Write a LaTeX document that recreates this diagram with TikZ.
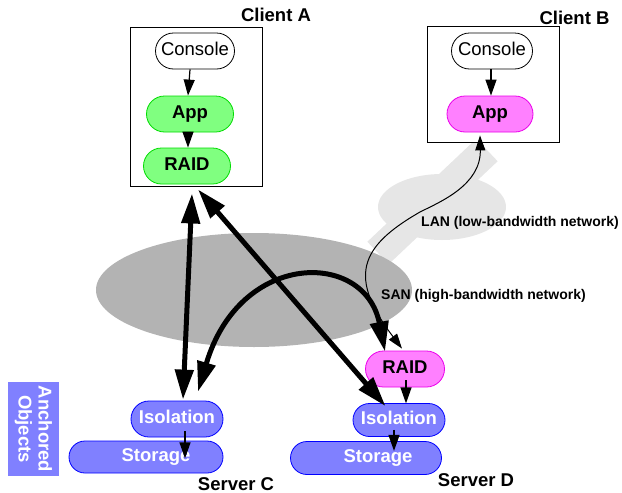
\documentclass[tikz,border=0pt]{standalone}
\usepackage{fontspec}
\setmainfont{Liberation Sans}
\usetikzlibrary{arrows.meta,calc,shapes.misc}
\definecolor{greenfill}{RGB}{128,255,128}
\definecolor{greenline}{RGB}{0,220,0}
\definecolor{magfill}{RGB}{255,128,255}
\definecolor{magline}{RGB}{235,0,235}
\definecolor{bluefill}{RGB}{128,128,255}
\definecolor{blueline}{RGB}{0,0,255}
\definecolor{sangrey}{RGB}{179,179,179}
\definecolor{langrey}{RGB}{230,230,230}
\begin{document}
\begin{tikzpicture}[x=1pt,y=-1pt,
  base/.style={font=\fontsize{18.5}{20}\selectfont, inner sep=0pt, text height=13pt, text depth=5pt},
  pill/.style={base, rounded rectangle, line width=0.8pt, minimum height=36pt},
  console/.style={pill, draw=black, fill=white},
  greenpill/.style={pill, draw=greenline, fill=greenfill, font=\fontsize{18.5}{20}\selectfont\bfseries},
  magpill/.style={pill, draw=magline, fill=magfill, font=\fontsize{18.5}{20}\selectfont\bfseries},
  bluepill/.style={pill, draw=blueline, fill=bluefill, text=white, font=\fontsize{18.5}{20}\selectfont\bfseries},
  wtext/.style={base, text=white, font=\fontsize{18.5}{20}\selectfont\bfseries},
  clientbox/.style={draw=black, fill=white, line width=0.9pt, inner sep=0pt},
  title/.style={inner sep=0pt, font=\fontsize{18.5}{20}\selectfont\bfseries},
  netlabel/.style={inner sep=0pt, anchor=west, font=\fontsize{14}{16}\selectfont\bfseries},
  anchoredbox/.style={fill=bluefill, text=white, inner sep=0pt, rotate=-90, align=center,
    minimum width=94pt, minimum height=51pt, font=\fontsize{18.5}{20}\selectfont\bfseries},
  smallarrow/.style={line width=1.2pt, -{Triangle[length=16pt,width=11pt]}},
  thinlink/.style={line width=1pt, {Triangle[length=15pt,width=10pt]}-{Triangle[length=15pt,width=10pt]}},
  biglink/.style={line width=5pt, {Triangle[length=30pt,width=18pt]}-{Triangle[length=30pt,width=18pt]}}
]
\useasboundingbox (0,0) rectangle (622,493);

% networks
\draw[langrey, line width=31pt] (378,253) -- (487,150);
\fill[langrey] (442,207) ellipse [x radius=64, y radius=33];
\fill[sangrey] (254,290) ellipse [x radius=158, y radius=57];
\node[netlabel] (lanlabel) at (421,223) {LAN (low-bandwidth network)};
\node[netlabel] (sanlabel) at (381,296) {SAN (high-bandwidth network)};

% client A
\node[clientbox, minimum width=132pt, minimum height=159pt] (boxA) at (196,106.5) {};
\node[title] (titleA) at (276,15) {Client A};
\node[console, minimum width=79pt] (conA) at (195,51) {Console};
\node[greenpill, minimum width=87pt] (appA) at (190,114) {App};
\node[greenpill, minimum width=87pt] (raidA) at (187,166) {RAID};
\draw[smallarrow] ($(conA.south)+(-5,0)$) -- ($(appA.north)+(-2,0)$);
\draw[smallarrow] ($(appA.south)+(-2,0)$) -- ($(raidA.north)+(1,0)$);

% client B
\node[clientbox, minimum width=132pt, minimum height=116pt] (boxB) at (493,84) {};
\node[title] (titleB) at (574.5,18) {Client B};
\node[console, minimum width=81pt] (conB) at (492,51) {Console};
\node[magpill, minimum width=86pt] (appB) at (490,114) {App};
\draw[smallarrow] ($(conB.south)+(-1,0)$) -- ($(appB.north)+(1,0)$);

% anchored objects
\node[anchoredbox] (anch) at (33.5,429) {Anchored\\Objects};

% server C
\node[bluepill, minimum width=154pt, minimum height=32pt] (stC) at (146,457) {};
\node[wtext] (stCt) at (156,457) {Storage};
\node[bluepill, minimum width=92pt] (isoC) at (177,419) {Isolation};
\draw[smallarrow] ($(isoC.south)+(8,-6)$) -- ($(isoC.south)+(8,21)$);
\node[title] (titleC) at (236,484) {Server C};

% server D
\node[bluepill, minimum width=151pt, minimum height=33pt] (stD) at (366,458) {};
\node[wtext] (stDt) at (378,458) {Storage};
\node[bluepill, minimum width=92pt, minimum height=33pt] (isoD) at (399,420) {Isolation};
\node[magpill, minimum width=79pt] (raidD) at (405,369) {RAID};
\draw[smallarrow] ($(raidD.south)+(1,-7)$) -- ($(raidD.south)+(1,16)$);
\draw[smallarrow] ($(isoD.south)+(-5,-7)$) -- ($(isoD.south)+(-5,14)$);
\node[title] (titleD) at (476,480) {Server D};

% links
\draw[biglink] ($(boxA.south)+(-4,7)$) -- ($(isoC.north)+(6,-1)$);
\draw[biglink] ($(boxA.south)+(2,3)$) -- ($(isoD.north west)+(16,3)$);
\draw[biglink] ($(isoC.north)+(21,-9)$) .. controls (240,250) and (365,250) .. ($(raidD.north)+(-20,1)$);
\coordinate (lanmid) at (420,212);
\draw[thinlink] ($(appB.south)+(-10,3)$) .. controls (481,185) and (440,202) .. (lanmid)
  .. controls (359,247) and (348,277) .. ($(raidD.north)+(-3,-2)$);
\end{tikzpicture}
\end{document}
